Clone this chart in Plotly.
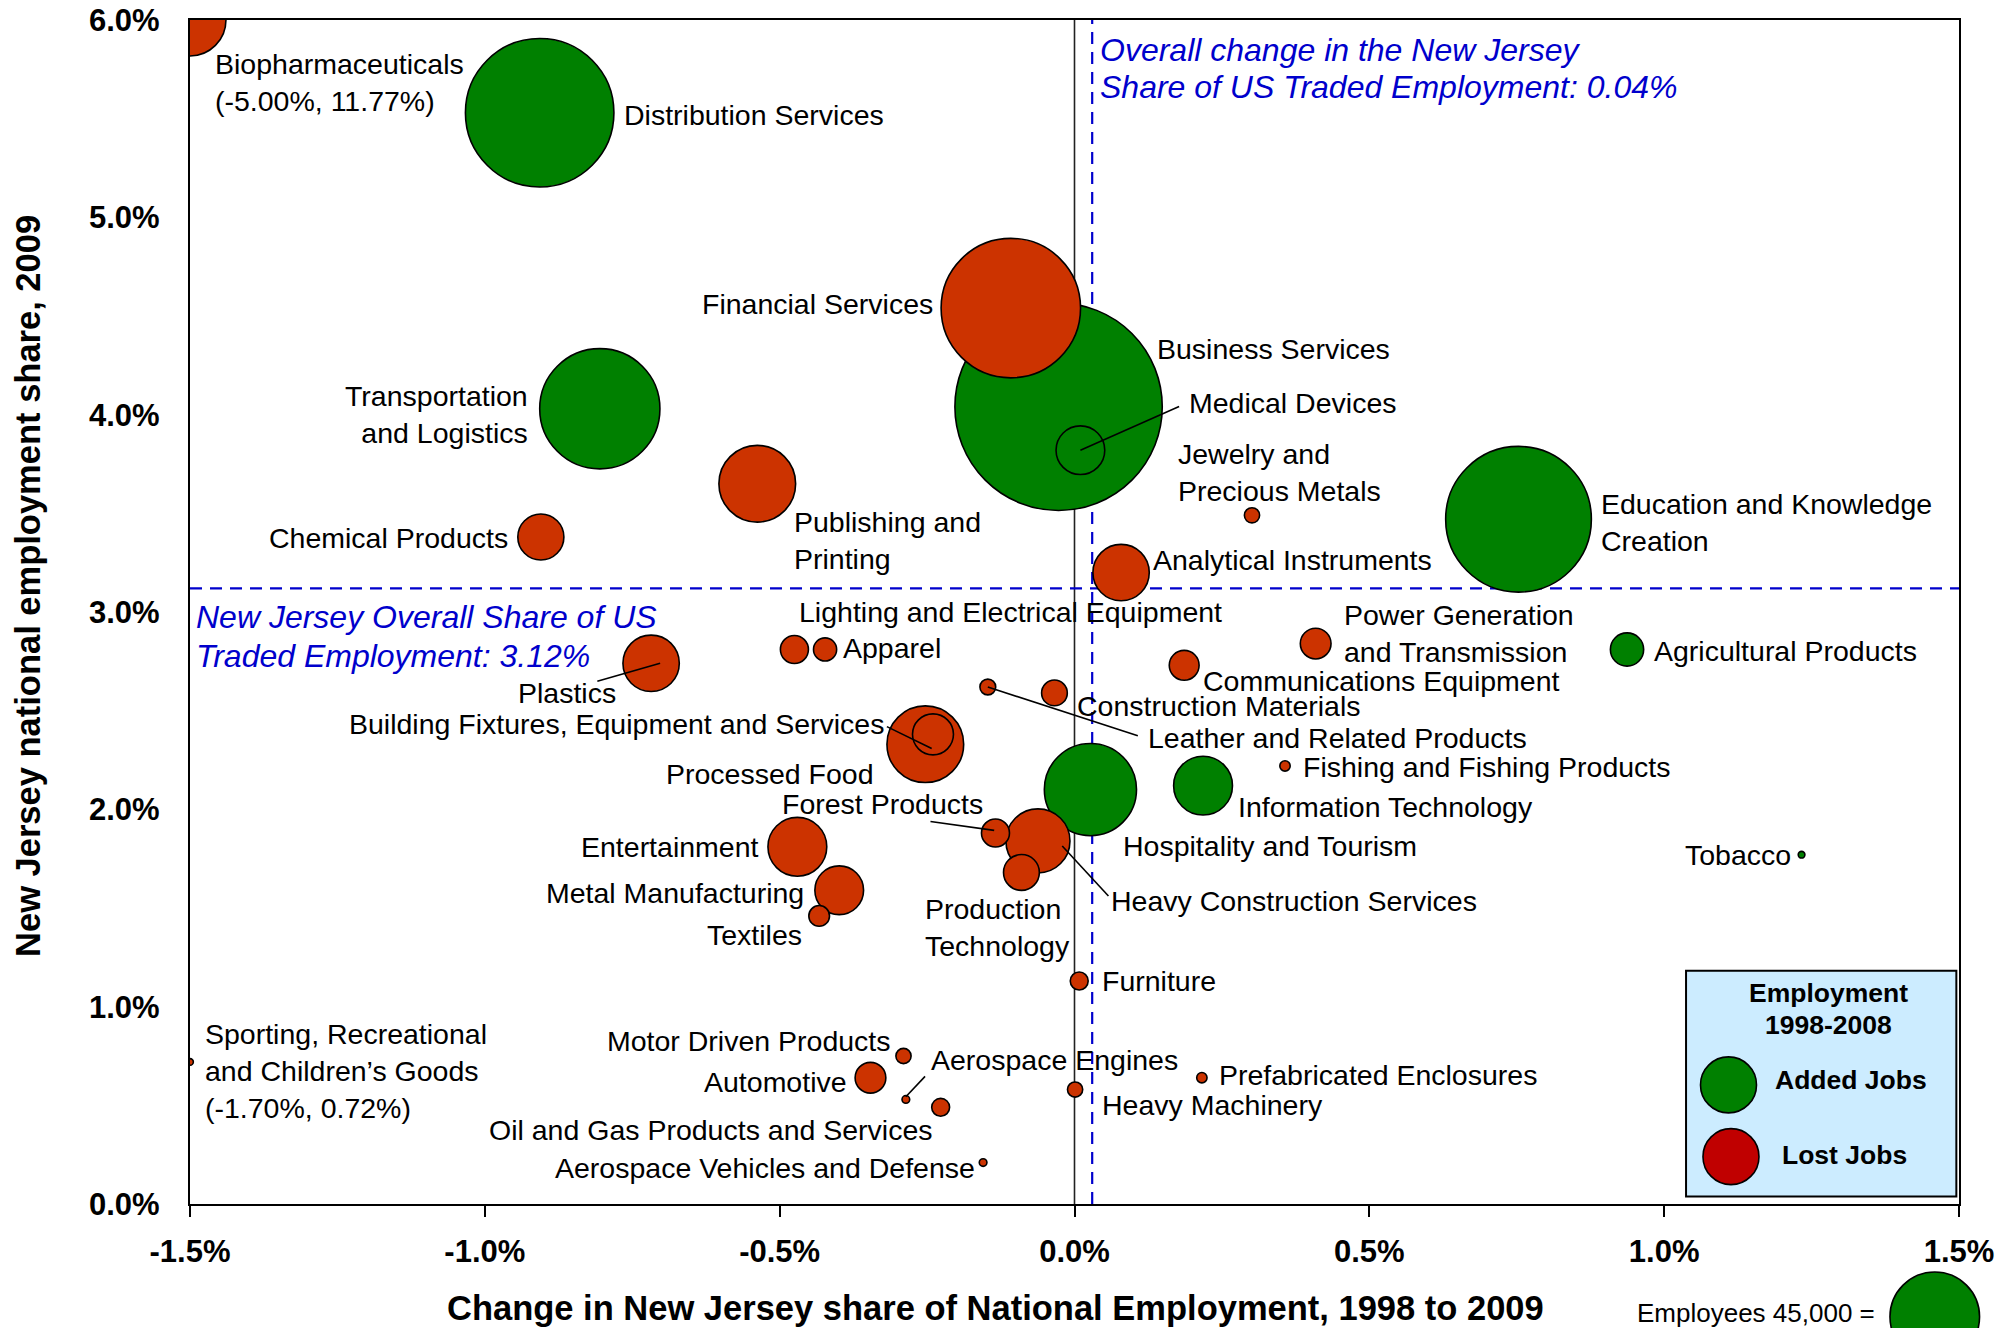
import plotly.graph_objects as go

# ---------------- data ----------------
clusters = [
    "Biopharmaceuticals", "Distribution Services", "Financial Services", "Business Services",
    "Medical Devices", "Transportation and Logistics", "Publishing and Printing", "Chemical Products",
    "Jewelry and Precious Metals", "Education and Knowledge Creation", "Analytical Instruments",
    "Plastics", "Lighting and Electrical Equipment", "Apparel", "Power Generation and Transmission",
    "Agricultural Products", "Communications Equipment", "Construction Materials",
    "Leather and Related Products", "Building Fixtures, Equipment and Services", "Processed Food",
    "Fishing and Fishing Products", "Hospitality and Tourism", "Information Technology",
    "Forest Products", "Heavy Construction Services", "Production Technology", "Entertainment",
    "Metal Manufacturing", "Textiles", "Furniture", "Tobacco",
    "Sporting, Recreational and Children’s Goods", "Motor Driven Products", "Automotive",
    "Aerospace Engines", "Oil and Gas Products and Services", "Heavy Machinery",
    "Prefabricated Enclosures", "Aerospace Vehicles and Defense",
]
# change in NJ share of national employment 1998-2009 (%)
x_change = [
    -5.00, -0.907, -0.108, -0.027,
    0.010, -0.805, -0.538, -0.905,
    0.301, 0.753, 0.079,
    -0.718, -0.475, -0.423, 0.409,
    0.937, 0.186, -0.034,
    -0.147, -0.240, -0.253,
    0.357, 0.027, 0.218,
    -0.134, -0.062, -0.090, -0.470,
    -0.399, -0.433, 0.008, 1.233,
    -1.70, -0.290, -0.346,
    -0.286, -0.227, 0.001,
    0.216, -0.155,
]
# NJ national employment share 2009 (%)
y_share = [
    11.77, 5.53, 4.54, 4.04,
    3.82, 4.03, 3.65, 3.38,
    3.49, 3.47, 3.20,
    2.74, 2.81, 2.81, 2.84,
    2.81, 2.73, 2.59,
    2.62, 2.38, 2.33,
    2.22, 2.10, 2.12,
    1.88, 1.84, 1.68, 1.81,
    1.59, 1.46, 1.13, 1.77,
    0.72, 0.75, 0.64,
    0.53, 0.49, 0.58,
    0.64, 0.21,
]
# NJ employment (bubble size)
employment = [
    29000, 123600, 109000, 241000,
    13300, 81000, 33000, 11900,
    1300, 119000, 17800,
    17800, 4400, 3000, 5300,
    6200, 5000, 3700,
    1400, 9400, 33000,
    600, 47600, 19400,
    4400, 23000, 7200, 19400,
    13300, 2400, 1800, 250,
    250, 1300, 5300,
    330, 1800, 1300,
    600, 330,
]
job_trend = [
    "Lost", "Added", "Lost", "Added",
    "Added", "Added", "Lost", "Lost",
    "Lost", "Added", "Lost",
    "Lost", "Lost", "Lost", "Lost",
    "Added", "Lost", "Lost",
    "Lost", "Lost", "Lost",
    "Lost", "Added", "Added",
    "Lost", "Lost", "Lost", "Lost",
    "Lost", "Lost", "Lost", "Added",
    "Lost", "Lost", "Lost",
    "Lost", "Lost", "Lost",
    "Lost", "Lost",
]
x_tick_values = [-1.5, -1.0, -0.5, 0.0, 0.5, 1.0, 1.5]
x_tick_labels = ["-1.5%", "-1.0%", "-0.5%", "0.0%", "0.5%", "1.0%", "1.5%"]
y_tick_values = [0, 1, 2, 3, 4, 5, 6]
y_tick_labels = ["0.0%", "1.0%", "2.0%", "3.0%", "4.0%", "5.0%", "6.0%"]
nj_overall_share = 3.12          # horizontal reference line
nj_overall_change = 0.04         # value quoted in the annotation
nj_change_line_position = 0.03   # where the dashed line is drawn in the picture
reference_employees = 45000

# ---------------- styling ----------------
X_RANGE = (-1.5, 1.5)
Y_RANGE = (0.0, 6.0)
GREEN = "#008000"
RED = "#CC3300"
LEGEND_RED = "#C00000"
BLUE = "#0000CC"
FONT = "Liberation Sans, Arial, sans-serif"
LABEL_SIZE = 28.5
REF_DIAMETER = 89.6  # px diameter of the 45,000-employee bubble
SIZEREF = 2.0 * reference_employees / REF_DIAMETER ** 2
DASH = "12px,8px"

label_breaks = {
    "Transportation and Logistics": "Transportation<br>and Logistics",
    "Publishing and Printing": "Publishing and<br>Printing",
    "Jewelry and Precious Metals": "Jewelry and<br>Precious Metals",
    "Education and Knowledge Creation": "Education and Knowledge<br>Creation",
    "Power Generation and Transmission": "Power Generation<br>and Transmission",
    "Production Technology": "Production<br>Technology",
    "Sporting, Recreational and Children’s Goods": "Sporting, Recreational<br>and Children’s Goods",
}
# (anchor, x offset px, y offset px [up positive])
label_layout = {
    "Biopharmaceuticals": ("left", 23, -62),
    "Distribution Services": ("left", 82, -2.6),
    "Financial Services": ("right", -76, 3.8),
    "Business Services": ("left", 96, 57.7),
    "Medical Devices": ("left", 107, 47.4),
    "Transportation and Logistics": ("right", -70, -5.8),
    "Publishing and Printing": ("left", 35, -56.4),
    "Chemical Products": ("right", -31, -1.3),
    "Jewelry and Precious Metals": ("left", -76, 42.9),
    "Education and Knowledge Creation": ("left", 80, -3.2),
    "Analytical Instruments": ("left", 30, 12.8),
    "Plastics": ("center", -84.6, -29.5),
    "Lighting and Electrical Equipment": ("left", 3, 37.2),
    "Apparel": ("left", 16, 1.3),
    "Power Generation and Transmission": ("left", 26, 10.3),
    "Agricultural Products": ("left", 25, -1.3),
    "Communications Equipment": ("left", 17, -15.4),
    "Construction Materials": ("left", 21, -12.8),
    "Leather and Related Products": ("left", 158, -51.3),
    "Building Fixtures, Equipment and Services": ("right", -47, 10.3),
    "Processed Food": ("right", -49, -29.5),
    "Fishing and Fishing Products": ("left", 16, -1.3),
    "Hospitality and Tourism": ("left", 31, -56.4),
    "Information Technology": ("left", 32.6, -21.8),
    "Forest Products": ("right", -10, 29.5),
    "Heavy Construction Services": ("left", 71, -60.2),
    "Production Technology": ("left", -98, -55.1),
    "Entertainment": ("right", -36, 0),
    "Metal Manufacturing": ("right", -33, -2.6),
    "Textiles": ("right", -15, -19.2),
    "Furniture": ("left", 21, 0),
    "Tobacco": ("right", -9, 0),
    "Sporting, Recreational and Children’s Goods": ("left", 13.4, -9.5),
    "Motor Driven Products": ("right", -11, 15.4),
    "Automotive": ("right", -21.5, -3.8),
    "Aerospace Engines": ("left", 23.6, 39.7),
    "Oil and Gas Products and Services": ("right", -6, -23),
    "Heavy Machinery": ("left", 25, -15.4),
    "Prefabricated Enclosures": ("left", 14.7, 2.6),
    "Aerospace Vehicles and Defense": ("right", -6, -5.1),
}
# leader lines: (x0, y0, x1, y1) pixel offsets from the bubble centre
leader_lines = {
    "Medical Devices": (0, 0, 98.7, 43.6),
    "Plastics": (9, 0, -53.8, -17.9),
    "Building Fixtures, Equipment and Services": (-46.1, 7.7, -1.3, -14.1),
    "Leather and Related Products": (0, 0, 150, -48.7),
    "Forest Products": (-1.3, 2.6, -65, 11.5),
    "Heavy Construction Services": (24.3, -5.1, 70.5, -55.1),
    "Aerospace Engines": (0, 2.6, 19.2, 23),
}


def clip(v, lo, hi):
    return max(lo, min(hi, v))


x_plot = [clip(v, *X_RANGE) for v in x_change]
y_plot = [clip(v, *Y_RANGE) for v in y_share]
off_chart = [(x != xp) or (y != yp) for x, y, xp, yp in zip(x_change, y_share, x_plot, y_plot)]

# draw larger bubbles first so smaller ones sit on top
order = sorted(range(len(clusters)), key=lambda i: -employment[i])

fig = go.Figure()
fig.add_trace(go.Scatter(
    x=[x_plot[i] for i in order],
    y=[y_plot[i] for i in order],
    mode="markers",
    text=[clusters[i] for i in order],
    customdata=[[x_change[i], y_share[i], employment[i]] for i in order],
    hovertemplate="%{text}<br>Change: %{customdata[0]:.2f}%<br>Share: %{customdata[1]:.2f}%<br>Employment: %{customdata[2]:,}<extra></extra>",
    marker=dict(
        size=[employment[i] for i in order],
        sizemode="area",
        sizeref=SIZEREF,
        sizemin=2,
        color=[GREEN if job_trend[i] == "Added" else RED for i in order],
        opacity=1,
        line=dict(color="black", width=1.6),
    ),
    cliponaxis=True,
    showlegend=False,
))

annotations = []
shapes = []

# bubble labels
for i, name in enumerate(clusters):
    anchor, dx, dy = label_layout[name]
    txt = label_breaks.get(name, name)
    if off_chart[i]:
        txt += f"<br>({x_change[i]:.2f}%, {y_share[i]:.2f}%)"
    annotations.append(dict(
        x=x_plot[i], y=y_plot[i], xref="x", yref="y", text=txt, showarrow=False,
        xanchor=anchor, yanchor="middle", align=anchor,
        xshift=dx, yshift=dy, font=dict(family=FONT, size=LABEL_SIZE, color="black"),
    ))
    if name in leader_lines:
        x0, y0, x1, y1 = leader_lines[name]
        shapes.append(dict(
            type="line", xref="x", yref="y", xsizemode="pixel", ysizemode="pixel",
            xanchor=x_plot[i], yanchor=y_plot[i], x0=x0, y0=y0, x1=x1, y1=y1,
            line=dict(color="black", width=1.6), layer="above",
        ))

# reference lines
shapes.append(dict(type="line", xref="x", yref="paper", x0=0, x1=0, y0=0, y1=1,
                   line=dict(color="#222222", width=1.6), layer="below"))
shapes.append(dict(type="line", xref="x", yref="paper", x0=nj_change_line_position,
                   x1=nj_change_line_position, y0=0, y1=1,
                   line=dict(color=BLUE, width=2.2, dash=DASH), layer="below"))
shapes.append(dict(type="line", xref="paper", yref="y", x0=0, x1=1, y0=nj_overall_share,
                   y1=nj_overall_share, line=dict(color=BLUE, width=2.2, dash=DASH), layer="below"))

blue_font = dict(family=FONT, size=32, color=BLUE)
annotations += [
    dict(x=nj_change_line_position, y=1, xref="x", yref="paper", xanchor="left", yanchor="middle",
         xshift=6, yshift=-30, showarrow=False, text="<i>Overall change in the New Jersey</i>", font=blue_font),
    dict(x=nj_change_line_position, y=1, xref="x", yref="paper", xanchor="left", yanchor="middle",
         xshift=6, yshift=-67, showarrow=False,
         text=f"<i>Share of US Traded Employment: {nj_overall_change:.2f}%</i>", font=blue_font),
    dict(x=0, y=nj_overall_share, xref="paper", yref="y", xanchor="left", yanchor="middle",
         xshift=4, yshift=-29, showarrow=False, text="<i>New Jersey Overall Share of US</i>", font=blue_font),
    dict(x=0, y=nj_overall_share, xref="paper", yref="y", xanchor="left", yanchor="middle",
         xshift=4, yshift=-68, showarrow=False,
         text=f"<i>Traded Employment: {nj_overall_share:.2f}%</i>", font=blue_font),
]

# legend box
shapes.append(dict(type="rect", xref="paper", yref="paper", x0=0.8457, x1=0.9985, y0=0.0063, y1=0.1971,
                   fillcolor="#CCECFF", line=dict(color="black", width=2), layer="above"))
leg_r = REF_DIAMETER / 2 * 0.625
for cx, cy, col in [(0.8697, 0.1006, GREEN), (0.8711, 0.0400, LEGEND_RED)]:
    shapes.append(dict(type="circle", xref="paper", yref="paper", xsizemode="pixel", ysizemode="pixel",
                       xanchor=cx, yanchor=cy, x0=-leg_r, x1=leg_r, y0=-leg_r, y1=leg_r,
                       fillcolor=col, line=dict(color="black", width=1.6), layer="above"))
leg_font = dict(family=FONT, size=26.5, color="black")
annotations += [
    dict(x=0.9262, y=0.1786, xref="paper", yref="paper", text="<b>Employment</b>", showarrow=False,
         xanchor="center", yanchor="middle", font=leg_font),
    dict(x=0.9262, y=0.1515, xref="paper", yref="paper", text="<b>1998-2008</b>", showarrow=False,
         xanchor="center", yanchor="middle", font=leg_font),
    dict(x=0.895, y=0.105, xref="paper", yref="paper", text="<b>Added Jobs</b>", showarrow=False,
         xanchor="left", yanchor="middle", font=leg_font),
    dict(x=0.8987, y=0.0411, xref="paper", yref="paper", text="<b>Lost Jobs</b>", showarrow=False,
         xanchor="left", yanchor="middle", font=leg_font),
]

# size key bubble below the plot
ref_r = REF_DIAMETER / 2
shapes.append(dict(type="circle", xref="paper", yref="paper", xsizemode="pixel", ysizemode="pixel",
                   xanchor=0.9863, yanchor=-0.0953, x0=-ref_r, x1=ref_r, y0=-ref_r, y1=ref_r,
                   fillcolor=GREEN, line=dict(color="black", width=1.6), layer="above"))
annotations.append(dict(x=0.9537, y=-0.092, xref="paper", yref="paper",
                        text=f"Employees {reference_employees:,} =", showarrow=False,
                        xanchor="right", yanchor="middle", font=dict(family=FONT, size=26, color="black")))

# axis titles
title_font = dict(family=FONT, size=34.5, color="black")
annotations.append(dict(x=0.4555, y=-0.0875, xref="paper", yref="paper", showarrow=False,
                        text="<b>Change in New Jersey share of National Employment, 1998 to 2009</b>",
                        xanchor="center", yanchor="middle", font=title_font))
annotations.append(dict(x=-0.0912, y=0.5217, xref="paper", yref="paper", showarrow=False, textangle=-90,
                        text="<b>New Jersey national employment share, 2009</b>",
                        xanchor="center", yanchor="middle", font=title_font))

fig.update_layout(
    width=2009, height=1328,
    margin=dict(l=190, r=50, t=20, b=124, pad=0),
    paper_bgcolor="white", plot_bgcolor="white",
    font=dict(family=FONT, color="black"),
    shapes=shapes, annotations=annotations,
    showlegend=False,
)
fig.update_xaxes(
    range=list(X_RANGE), tickvals=x_tick_values, ticktext=x_tick_labels,
    showgrid=False, zeroline=False, showline=True, linecolor="black", linewidth=2.2, mirror=True,
    ticks="outside", ticklen=11, tickwidth=2, tickcolor="black", ticklabelstandoff=8,
    tickfont=dict(family=FONT, size=31, color="black", weight="bold"), automargin=False,
)
fig.update_yaxes(
    range=list(Y_RANGE), tickvals=y_tick_values, ticktext=y_tick_labels,
    showgrid=False, zeroline=False, showline=True, linecolor="black", linewidth=2.2, mirror=True,
    ticks="", ticklabelstandoff=22,
    tickfont=dict(family=FONT, size=31, color="black", weight="bold"), automargin=False,
)

fig.write_html(
    "out.html",
    config={"displayModeBar": False},
    post_script="document.body.style.margin='0px';document.body.style.overflow='hidden';",
)
